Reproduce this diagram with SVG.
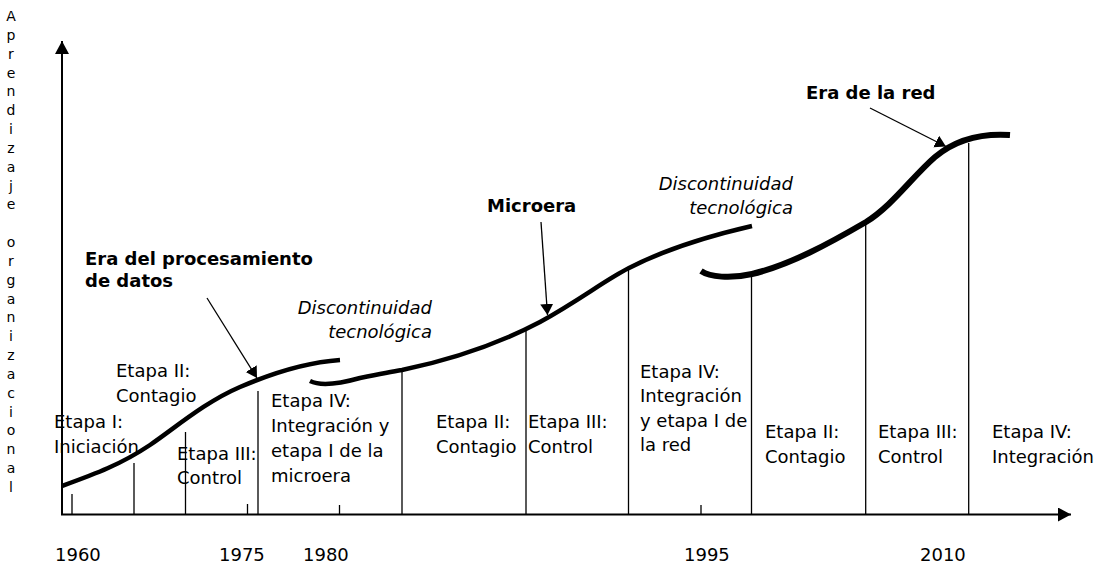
<svg xmlns="http://www.w3.org/2000/svg" width="1097" height="565" viewBox="0 0 1097 565">
<style>
.t{font-family:"DejaVu Sans",Verdana,sans-serif;font-size:18px;fill:#000}
.b{font-weight:bold}
.i{font-style:italic}
.v{font-family:"DejaVu Sans",Verdana,sans-serif;font-size:14px;fill:#000}
.ax{stroke:#000;stroke-width:2;fill:none}
.dv{stroke:#000;stroke-width:1.3;fill:none}
.cv{stroke:#000;stroke-width:4.5;fill:none;stroke-linecap:butt}
.cv3{stroke:#000;stroke-width:6;fill:none}
.ar{stroke:#000;stroke-width:1.3;fill:none}
</style>
<defs>
<marker id="axhead" markerUnits="userSpaceOnUse" markerWidth="14" markerHeight="16" refX="13" refY="7" orient="auto">
<path d="M0,0 L13,7 L0,14 Z" fill="#000"/>
</marker>
<marker id="arhead" markerUnits="userSpaceOnUse" markerWidth="12" markerHeight="14" refX="11" refY="6.5" orient="auto">
<path d="M0,0 L11,6.5 L0,13 Z" fill="#000"/>
</marker>
</defs>
<rect width="1097" height="565" fill="#fff"/>

<g id="y-label">
<text class="v" text-anchor="middle">
<tspan x="11" y="21">A</tspan><tspan x="11" y="40">p</tspan><tspan x="11" y="59">r</tspan><tspan x="11" y="78">e</tspan><tspan x="11" y="96">n</tspan><tspan x="11" y="115">d</tspan><tspan x="11" y="134">i</tspan><tspan x="11" y="153">z</tspan><tspan x="11" y="172">a</tspan><tspan x="11" y="191">j</tspan><tspan x="11" y="209">e</tspan><tspan x="11" y="247">o</tspan><tspan x="11" y="266">r</tspan><tspan x="11" y="285">g</tspan><tspan x="11" y="304">a</tspan><tspan x="11" y="322">n</tspan><tspan x="11" y="341">i</tspan><tspan x="11" y="360">z</tspan><tspan x="11" y="379">a</tspan><tspan x="11" y="398">c</tspan><tspan x="11" y="417">i</tspan><tspan x="11" y="435">o</tspan><tspan x="11" y="454">n</tspan><tspan x="11" y="473">a</tspan><tspan x="11" y="492">l</tspan>
</text>
</g>

<g id="axes">
<line class="ax" x1="62" y1="515" x2="62" y2="41" marker-end="url(#axhead)"/>
<line class="ax" x1="61" y1="514.5" x2="1071" y2="514.5" marker-end="url(#axhead)"/>
</g>

<g id="dividers">
<line class="dv" x1="72" y1="494" x2="72" y2="514"/>
<line class="dv" x1="134" y1="463" x2="134" y2="514"/>
<line class="dv" x1="185.5" y1="432" x2="185.5" y2="514"/>
<line class="dv" x1="247.5" y1="504" x2="247.5" y2="514"/>
<line class="dv" x1="258" y1="391" x2="258" y2="514"/>
<line class="dv" x1="339.5" y1="505" x2="339.5" y2="514"/>
<line class="dv" x1="402" y1="370" x2="402" y2="514"/>
<line class="dv" x1="526" y1="331" x2="526" y2="514"/>
<line class="dv" x1="628.5" y1="268" x2="628.5" y2="514"/>
<line class="dv" x1="701" y1="505" x2="701" y2="514"/>
<line class="dv" x1="751.5" y1="275" x2="751.5" y2="514"/>
<line class="dv" x1="865.7" y1="222" x2="865.7" y2="514"/>
<line class="dv" x1="968.7" y1="143" x2="968.7" y2="514"/>
</g>

<g id="curves">
<path class="cv" d="M62,486 C95,474 120,465 150,445 C175,428 205,402 240,387 C275,372 310,362 340,360"/>
<path class="cv" d="M310,381 C318,385 335,385 360,378 C375,375 390,372 402,370 C450,360 500,343 540,322 C580,300 605,280 629,268 C660,252 700,238 752,226"/>
<path class="cv3" d="M701,271 C710,277 730,279 752,274 C790,265 830,243 866,222 C892,206 912,177 935,157 C955,140 980,133 1010,135"/>
</g>

<g id="connectors">
<line class="ar" x1="207" y1="298" x2="257" y2="378" marker-end="url(#arhead)"/>
<line class="ar" x1="541" y1="222" x2="547.5" y2="315" marker-end="url(#arhead)"/>
<line class="ar" x1="870" y1="108" x2="946" y2="146.5" marker-end="url(#arhead)"/>
</g>

<g id="era-procesamiento">
<text class="t b" x="85" y="265">Era del procesamiento</text>
<text class="t b" x="85" y="287">de datos</text>
</g>
<g id="microera"><text class="t b" x="487" y="212">Microera</text></g>
<g id="era-red"><text class="t b" x="806" y="99">Era de la red</text></g>

<g id="discontinuidad-1">
<text class="t i" x="432" y="314" text-anchor="end">Discontinuidad</text>
<text class="t i" x="432" y="338" text-anchor="end">tecnológica</text>
</g>
<g id="discontinuidad-2">
<text class="t i" x="793" y="190" text-anchor="end">Discontinuidad</text>
<text class="t i" x="793" y="214" text-anchor="end">tecnológica</text>
</g>

<g id="etapa-1"><text class="t" x="54" y="428">Etapa I:</text><text class="t" x="54" y="453">Iniciación</text></g>
<g id="etapa-2"><text class="t" x="116" y="377">Etapa II:</text><text class="t" x="116" y="402">Contagio</text></g>
<g id="etapa-3"><text class="t" x="177" y="460">Etapa III:</text><text class="t" x="177" y="484">Control</text></g>
<g id="etapa-4"><text class="t" x="271" y="407">Etapa IV:</text><text class="t" x="271" y="432">Integración y</text><text class="t" x="271" y="457">etapa I de la</text><text class="t" x="271" y="482">microera</text></g>
<g id="etapa-2b"><text class="t" x="436" y="428">Etapa II:</text><text class="t" x="436" y="453">Contagio</text></g>
<g id="etapa-3b"><text class="t" x="528" y="428">Etapa III:</text><text class="t" x="528" y="453">Control</text></g>
<g id="etapa-4b"><text class="t" x="640" y="378">Etapa IV:</text><text class="t" x="640" y="402">Integración</text><text class="t" x="640" y="427">y etapa I de</text><text class="t" x="640" y="451">la red</text></g>
<g id="etapa-2c"><text class="t" x="765" y="438">Etapa II:</text><text class="t" x="765" y="463">Contagio</text></g>
<g id="etapa-3c"><text class="t" x="878" y="438">Etapa III:</text><text class="t" x="878" y="463">Control</text></g>
<g id="etapa-4c"><text class="t" x="992" y="438">Etapa IV:</text><text class="t" x="992" y="463">Integración</text></g>

<g id="years">
<text class="t" x="55" y="561">1960</text>
<text class="t" x="219" y="561">1975</text>
<text class="t" x="303" y="561">1980</text>
<text class="t" x="684" y="561">1995</text>
<text class="t" x="920" y="561">2010</text>
</g>
</svg>
